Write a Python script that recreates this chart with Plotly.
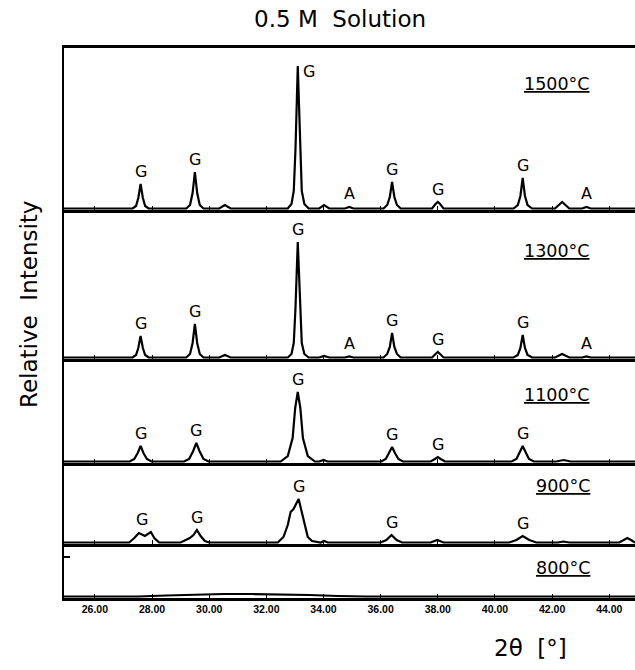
import plotly.graph_objects as go

# Temperature of each pattern, top to bottom
temps = ["1500°C", "1300°C", "1100°C", "900°C", "800°C"]

# Traced diffraction patterns: 2θ (deg) and relative intensity
x_1500 = [24.92, 26.0, 27.32, 27.44, 27.52, 27.6, 27.68, 27.76, 27.88,
          29.2, 29.33, 29.42, 29.5, 29.58, 29.67, 29.8, 30.35, 30.55, 30.75,
          32.75, 32.88, 32.96, 33.02, 33.1, 33.18, 33.24, 33.33, 33.48,
          33.85, 34.02, 34.2, 34.75, 34.9, 35.05,
          36.1, 36.23, 36.32, 36.4, 36.48, 36.57, 36.7,
          37.8, 37.92, 38.0, 38.08, 38.2,
          40.65, 40.8, 40.89, 40.97, 41.05, 41.14, 41.3,
          42.1, 42.35, 42.6, 43.05, 43.2, 43.35, 44.9]
y_1500 = [0.5, 0.5, 0.5, 3, 11, 25, 11, 3, 0.5,
          0.5, 4, 16, 37, 16, 4, 0.5, 0.5, 4, 0.5,
          0.5, 5, 18, 60, 143, 60, 18, 5, 0.5,
          0.5, 4, 0.5, 0.5, 2, 0.5,
          0.5, 4, 12, 27, 12, 4, 0.5,
          0.5, 5, 7, 5, 0.5,
          0.5, 4, 13, 31, 13, 4, 0.5,
          0.5, 7, 0.5, 0.5, 2, 0.5, 0.5]

x_1300 = [24.92, 26.0, 27.32, 27.44, 27.52, 27.6, 27.68, 27.76, 27.88,
          29.2, 29.33, 29.42, 29.5, 29.58, 29.67, 29.8, 30.35, 30.55, 30.75,
          32.75, 32.88, 32.96, 33.02, 33.1, 33.18, 33.24, 33.33, 33.48,
          33.85, 34.02, 34.2, 34.75, 34.9, 35.05,
          36.1, 36.23, 36.32, 36.4, 36.48, 36.57, 36.7,
          37.8, 37.92, 38.0, 38.08, 38.2,
          40.65, 40.8, 40.89, 40.97, 41.05, 41.14, 41.3,
          42.1, 42.35, 42.6, 43.05, 43.2, 43.35, 44.9]
y_1300 = [0.5, 0.5, 0.5, 3, 10, 22, 10, 3, 0.5,
          0.5, 4, 15, 34, 15, 4, 0.5, 0.5, 3, 0.5,
          0.5, 4, 15, 50, 116, 50, 15, 4, 0.5,
          0.5, 2, 0.5, 0.5, 1.5, 0.5,
          0.5, 4, 11, 25, 11, 4, 0.5,
          0.5, 4, 6, 4, 0.5,
          0.5, 3, 10, 23, 10, 3, 0.5,
          0.5, 4, 0.5, 0.5, 1.5, 0.5, 0.5]

x_1100 = [24.92, 26.0, 27.22, 27.38, 27.5, 27.6, 27.7, 27.82, 27.98,
          29.12, 29.3, 29.44, 29.55, 29.66, 29.8, 29.98,
          32.5, 32.75, 32.92, 33.01, 33.1, 33.19, 33.28, 33.45, 33.7,
          33.85, 34.0, 34.15,
          36.02, 36.18, 36.3, 36.4, 36.5, 36.62, 36.78,
          37.75, 37.9, 38.0, 38.1, 38.25,
          40.58, 40.75, 40.87, 40.97, 41.07, 41.19, 41.36,
          42.15, 42.4, 42.65, 44.9]
y_1100 = [0.5, 0.5, 0.5, 3, 9, 16, 9, 3, 0.5,
          0.5, 3, 11, 19, 11, 3, 0.5,
          0.5, 6, 24, 54, 70, 54, 24, 6, 0.5,
          0.5, 2, 0.5,
          0.5, 3, 9, 15, 9, 3, 0.5,
          0.5, 3, 5, 3, 0.5,
          0.5, 3, 10, 16, 10, 3, 0.5,
          0.5, 2, 0.5, 0.5]

x_900 = [24.92, 26.0, 27.2, 27.38, 27.54, 27.75, 27.96, 28.08, 28.25,
         29.0, 29.2, 29.32, 29.45, 29.57, 29.7, 29.85, 30.0,
         32.4, 32.6, 32.75, 32.85, 32.95, 33.13, 33.3, 33.45, 33.6, 33.8,
         33.9, 34.02, 34.15,
         36.0, 36.2, 36.38, 36.56, 36.75,
         37.75, 37.98, 38.2,
         40.5, 40.75, 40.97, 41.2, 41.45,
         42.2, 42.4, 42.6,
         44.35, 44.5, 44.63, 44.76, 44.9]
y_900 = [0.5, 0.5, 0.5, 5, 10, 7, 11, 5, 0.5,
         0.5, 3, 5, 8, 13, 7, 2, 0.5,
         0.5, 6, 18, 31, 34, 44, 25, 6, 2, 0.5,
         0.5, 2, 0.5,
         0.5, 3, 8, 3, 0.5,
         0.5, 3, 0.5,
         0.5, 3, 7, 3, 0.5,
         0.5, 1.5, 0.5,
         0.5, 3, 5, 3, 0.5]

x_800 = [24.92, 27.5, 28.5, 29.5, 30.5, 31.5, 32.5, 33.5, 34.5, 35.5, 44.9]
y_800 = [0.5, 0.5, 1.5, 2.5, 3, 3, 2.8, 2, 1, 0.5, 0.5]

# Phase labels (G = garnet, A = alumina) per pattern: 2θ, intensity, letter
peaks_1500 = [(27.6, 25, "G"), (29.5, 37, "G"), (33.1, 143, "G*"), (34.9, 2, "A"),
              (36.4, 27, "G"), (38.0, 7, "G"), (40.97, 31, "G"), (43.2, 2, "A")]
peaks_1300 = [(27.6, 22, "G"), (29.5, 34, "G"), (33.1, 116, "G"), (34.9, 1.5, "A"),
              (36.4, 25, "G"), (38.0, 6, "G"), (40.97, 23, "G"), (43.2, 1.5, "A")]
peaks_1100 = [(27.6, 16, "G"), (29.55, 19, "G"), (33.1, 70, "G"),
              (36.4, 15, "G"), (38.0, 5, "G"), (40.97, 16, "G")]
peaks_900 = [(27.65, 11, "G"), (29.57, 13, "G"), (33.13, 44, "G"),
             (36.38, 8, "G"), (40.97, 7, "G")]
peaks_800 = []

tick_vals = [26, 28, 30, 32, 34, 36, 38, 40, 42, 44]
tick_text = ["26.00", "28.00", "30.00", "32.00", "34.00",
             "36.00", "38.00", "40.00", "42.00", "44.00"]

xs = [x_1500, x_1300, x_1100, x_900, x_800]
ys = [y_1500, y_1300, y_1100, y_900, y_800]
peaks = [peaks_1500, peaks_1300, peaks_1100, peaks_900, peaks_800]

# Layout geometry (pixels)
W, H = 635, 670
top_px, bottom_px = 48, 598
baselines_px = [210, 359, 463, 544, 598]
tops_px = [48, 210, 359, 463, 544]
x_range = [24.92, 44.9]
span = bottom_px - top_px


def paper_y(py):
    return (bottom_px - py) / span


fig = go.Figure()
layout = dict(
    width=W, height=H,
    margin=dict(l=64, r=0, t=top_px, b=H - bottom_px),
    paper_bgcolor="white", plot_bgcolor="white",
    showlegend=False,
    font=dict(family="DejaVu Sans", color="black"),
)

annotations = []
for i in range(5):
    n = i + 1
    xa = "x" if n == 1 else f"x{n}"
    ya = "y" if n == 1 else f"y{n}"
    fig.add_trace(go.Scatter(
        x=xs[i], y=ys[i], mode="lines", xaxis=xa, yaxis=ya,
        line=dict(color="black", width=2.2), hoverinfo="skip"))
    panel_h = baselines_px[i] - tops_px[i]
    is_bottom = n == 5
    layout["xaxis" if n == 1 else f"xaxis{n}"] = dict(
        domain=[0, 1], range=x_range, anchor=ya,
        showline=True, linecolor="black", linewidth=2.6,
        mirror=(n == 1),
        ticks="inside", ticklen=4, tickwidth=1.4, tickcolor="black",
        tickvals=tick_vals, ticktext=tick_text,
        showticklabels=is_bottom,
        tickfont=dict(family="Liberation Sans", size=10.5, color="black", weight="bold"),
        showgrid=False, zeroline=False,
        matches=None if n == 1 else "x",
    )
    yax = dict(
        domain=[paper_y(baselines_px[i]), paper_y(tops_px[i])],
        range=[-1, panel_h - 1], anchor=xa,
        showline=True, linecolor="black", linewidth=2,
        ticks="", showticklabels=False, showgrid=False, zeroline=False,
    )
    if is_bottom:
        # short leftover tick on the lowest frame
        yax.update(ticks="inside", ticklen=6, tickwidth=1.5, tickcolor="black",
                   tickvals=[40])
    layout["yaxis" if n == 1 else f"yaxis{n}"] = yax
    # temperature label, underlined
    annotations.append(dict(
        xref="paper", yref="paper", x=(592 - 64) / 571,
        y=paper_y(tops_px[i] + [36, 41, 36, 23, 24][i]),
        text=f"<u>{temps[i]}</u>", showarrow=False,
        xanchor="right", yanchor="middle",
        font=dict(size=17.5, family="DejaVu Sans", color="black")))
    for (px, pv, lab) in peaks[i]:
        if lab == "G*":
            annotations.append(dict(
                xref=xa, yref=ya, x=px, y=pv, text="G", showarrow=False,
                xanchor="left", yanchor="top", xshift=3, yshift=6,
                font=dict(size=16, color="black")))
        elif lab == "A":
            annotations.append(dict(
                xref=xa, yref=ya, x=px, y=pv, text="A", showarrow=False,
                xanchor="center", yanchor="bottom", yshift=2,
                font=dict(size=16, color="black")))
        else:
            annotations.append(dict(
                xref=xa, yref=ya, x=px, y=pv, text="G", showarrow=False,
                xanchor="center", yanchor="bottom", yshift=1,
                font=dict(size=16, color="black")))

# figure texts
annotations.append(dict(
    xref="paper", yref="paper", x=(340 - 64) / 571, y=paper_y(19),
    text="0.5 M  Solution", showarrow=False, xanchor="center", yanchor="middle",
    font=dict(size=23, color="black")))
annotations.append(dict(
    xref="paper", yref="paper", x=(29 - 64) / 571, y=paper_y(305),
    text="Relative  Intensity", showarrow=False, textangle=-90,
    xanchor="center", yanchor="middle", font=dict(size=23, color="black")))
annotations.append(dict(
    xref="paper", yref="paper", x=(530 - 64) / 571, y=paper_y(648),
    text="2θ  [°]", showarrow=False, xanchor="center", yanchor="middle",
    font=dict(size=23, color="black")))

layout["annotations"] = annotations
fig.update_layout(**layout)
fig.write_html("out.html")
